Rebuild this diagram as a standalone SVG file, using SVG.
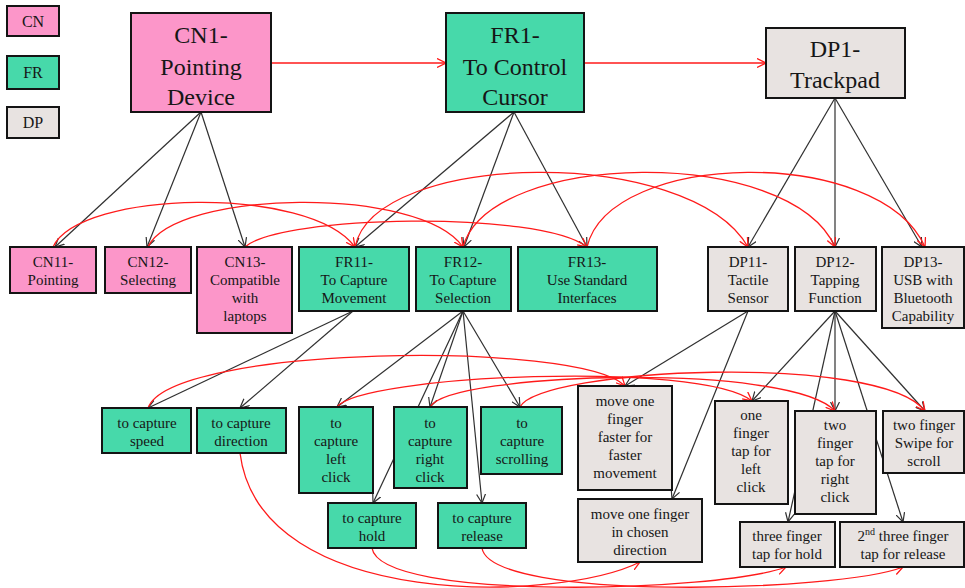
<svg xmlns="http://www.w3.org/2000/svg" width="965" height="588" viewBox="0 0 965 588" font-family="'Liberation Serif', 'Times New Roman', serif">
  <style>
    .cn { fill: #fc96c9; stroke: #141414; stroke-width: 2; }
    .fr { fill: #47d9aa; stroke: #141414; stroke-width: 2; }
    .dp { fill: #e8e3e1; stroke: #141414; stroke-width: 2; }
    text { font-family: "Liberation Serif", "Times New Roman", serif; fill: #161616; text-anchor: middle; }
    .big { font-size: 24px; }
    .sm { font-size: 15px; }
    .lg { font-size: 16px; }
    .tree { stroke: #303030; stroke-width: 1.2; fill: none; marker-end: url(#blackHead); }
    .link { stroke: #ff1a1a; stroke-width: 1.3; fill: none; marker-end: url(#redHead); }
  </style>
  <defs>
    <marker id="blackHead" viewBox="0 0 10 10" refX="9" refY="5" markerWidth="10" markerHeight="10" markerUnits="userSpaceOnUse" orient="auto">
      <path d="M0,0.5 L9,5 L0,9.5" fill="none" stroke="#303030" stroke-width="1.2"/>
    </marker>
    <marker id="redHead" viewBox="0 0 10 10" refX="9" refY="5" markerWidth="10" markerHeight="10" markerUnits="userSpaceOnUse" orient="auto">
      <path d="M0,0.5 L9,5 L0,9.5" fill="none" stroke="#ff1a1a" stroke-width="1.3"/>
    </marker>
  </defs>

  <!-- connectors: black = decomposition, red = mapping between domains -->
  <g id="connectors">
    <!-- top level mapping -->
    <path class="link" d="M271,63 H446"/>
    <path class="link" d="M584,63 H766"/>

    <!-- decomposition: CN1 -->
    <path class="tree" d="M201,112 L55,247"/>
    <path class="tree" d="M201,112 L147,247"/>
    <path class="tree" d="M201,112 L245,247"/>
    <!-- decomposition: FR1 -->
    <path class="tree" d="M514,112 L355,247"/>
    <path class="tree" d="M514,112 L464,247"/>
    <path class="tree" d="M514,112 L587,247"/>
    <!-- decomposition: DP1 -->
    <path class="tree" d="M835,98 L748,247"/>
    <path class="tree" d="M835,98 L835,247"/>
    <path class="tree" d="M835,98 L922,247"/>
    <!-- decomposition: FR11 -->
    <path class="tree" d="M353,311 L148,408"/>
    <path class="tree" d="M353,311 L240,408"/>
    <!-- decomposition: FR12 -->
    <path class="tree" d="M463,311 L337,407"/>
    <path class="tree" d="M463,311 L430,407"/>
    <path class="tree" d="M463,311 L373,503"/>
    <path class="tree" d="M463,311 L482,503"/>
    <path class="tree" d="M463,311 L520,407"/>
    <!-- decomposition: DP11 -->
    <path class="tree" d="M748,311 L625,386"/>
    <path class="tree" d="M748,311 L672,499"/>
    <!-- decomposition: DP12 -->
    <path class="tree" d="M835,311 L752,401"/>
    <path class="tree" d="M835,311 L835,411"/>
    <path class="tree" d="M835,311 L925,411"/>
    <path class="tree" d="M835,311 L788,522"/>
    <path class="tree" d="M835,311 L903,522"/>

    <!-- second level mapping -->
    <path class="link" d="M53,247 C80,190 310,185 355,247"/>
    <path class="link" d="M148,247 C175,190 420,185 463,247"/>
    <path class="link" d="M245,247 C280,215 540,210 587,247"/>
    <path class="link" d="M355,247 C375,150 690,145 748,247"/>
    <path class="link" d="M463,247 C490,150 790,145 835,247"/>
    <path class="link" d="M587,247 C610,150 880,145 925,247"/>

    <!-- third level mapping -->
    <path class="link" d="M148,408 C170,345 580,340 625,386"/>
    <path class="link" d="M337,407 C360,375 700,360 752,401"/>
    <path class="link" d="M430,407 C450,372 790,362 835,411"/>
    <path class="link" d="M520,407 C540,368 880,352 925,411"/>
    <path class="link" d="M240,453 C260,612 560,602 640,562"/>
    <path class="link" d="M372,548 C380,602 720,592 786,567"/>
    <path class="link" d="M482,548 C490,602 840,592 903,567"/>
  </g>

  <!-- legend -->
  <g id="legend-cn"><rect class="cn" x="7" y="6" width="52" height="30"/><text class="lg" x="33" y="27">CN</text></g>
  <g id="legend-fr"><rect class="fr" x="7" y="56" width="52" height="33"/><text class="lg" x="33" y="78">FR</text></g>
  <g id="legend-dp"><rect class="dp" x="7" y="107" width="52" height="31"/><text class="lg" x="33" y="128">DP</text></g>

  <!-- top level -->
  <g id="CN1"><rect class="cn" x="131" y="13" width="140" height="99"/>
    <text class="big" x="201" y="43">CN1-</text><text class="big" x="201" y="75">Pointing</text><text class="big" x="201" y="105">Device</text></g>
  <g id="FR1"><rect class="fr" x="446" y="13" width="138" height="99"/>
    <text class="big" x="515" y="43">FR1-</text><text class="big" x="515" y="75">To Control</text><text class="big" x="515" y="105">Cursor</text></g>
  <g id="DP1"><rect class="dp" x="766" y="28" width="139" height="70"/>
    <text class="big" x="835" y="57">DP1-</text><text class="big" x="835" y="88">Trackpad</text></g>

  <!-- second level -->
  <g id="CN11"><rect class="cn" x="10" y="247" width="86" height="46"/>
    <text class="sm" x="53" y="267">CN11-</text><text class="sm" x="53" y="285">Pointing</text></g>
  <g id="CN12"><rect class="cn" x="105" y="247" width="86" height="46"/>
    <text class="sm" x="148" y="267">CN12-</text><text class="sm" x="148" y="285">Selecting</text></g>
  <g id="CN13"><rect class="cn" x="197" y="247" width="95" height="86"/>
    <text class="sm" x="245" y="267">CN13-</text><text class="sm" x="245" y="285">Compatible</text><text class="sm" x="245" y="303">with</text><text class="sm" x="245" y="321">laptops</text></g>
  <g id="FR11"><rect class="fr" x="299" y="247" width="110" height="64"/>
    <text class="sm" x="354" y="267">FR11-</text><text class="sm" x="354" y="285">To Capture</text><text class="sm" x="354" y="303">Movement</text></g>
  <g id="FR12"><rect class="fr" x="416" y="247" width="95" height="64"/>
    <text class="sm" x="463" y="267">FR12-</text><text class="sm" x="463" y="285">To Capture</text><text class="sm" x="463" y="303">Selection</text></g>
  <g id="FR13"><rect class="fr" x="518" y="247" width="139" height="64"/>
    <text class="sm" x="587" y="267">FR13-</text><text class="sm" x="587" y="285">Use Standard</text><text class="sm" x="587" y="303">Interfaces</text></g>
  <g id="DP11"><rect class="dp" x="708" y="247" width="80" height="64"/>
    <text class="sm" x="748" y="267">DP11-</text><text class="sm" x="748" y="285">Tactile</text><text class="sm" x="748" y="303">Sensor</text></g>
  <g id="DP12"><rect class="dp" x="795" y="247" width="81" height="64"/>
    <text class="sm" x="835" y="267">DP12-</text><text class="sm" x="835" y="285">Tapping</text><text class="sm" x="835" y="303">Function</text></g>
  <g id="DP13"><rect class="dp" x="882" y="247" width="82" height="81"/>
    <text class="sm" x="923" y="267">DP13-</text><text class="sm" x="923" y="285">USB with</text><text class="sm" x="923" y="303">Bluetooth</text><text class="sm" x="923" y="321">Capability</text></g>

  <!-- third level: functional requirements -->
  <g id="speed"><rect class="fr" x="102" y="408" width="89" height="45"/>
    <text class="sm" x="147" y="428">to capture</text><text class="sm" x="147" y="446">speed</text></g>
  <g id="direction"><rect class="fr" x="197" y="408" width="89" height="45"/>
    <text class="sm" x="241" y="428">to capture</text><text class="sm" x="241" y="446">direction</text></g>
  <g id="left-click"><rect class="fr" x="299" y="407" width="74" height="86"/>
    <text class="sm" x="336" y="428">to</text><text class="sm" x="336" y="446">capture</text><text class="sm" x="336" y="464">left</text><text class="sm" x="336" y="482">click</text></g>
  <g id="right-click"><rect class="fr" x="394" y="407" width="73" height="81"/>
    <text class="sm" x="430" y="428">to</text><text class="sm" x="430" y="446">capture</text><text class="sm" x="430" y="464">right</text><text class="sm" x="430" y="482">click</text></g>
  <g id="scrolling"><rect class="fr" x="481" y="407" width="81" height="67"/>
    <text class="sm" x="522" y="428">to</text><text class="sm" x="522" y="446">capture</text><text class="sm" x="522" y="464">scrolling</text></g>
  <g id="hold"><rect class="fr" x="328" y="503" width="88" height="45"/>
    <text class="sm" x="372" y="523">to capture</text><text class="sm" x="372" y="541">hold</text></g>
  <g id="release"><rect class="fr" x="438" y="503" width="88" height="45"/>
    <text class="sm" x="482" y="523">to capture</text><text class="sm" x="482" y="541">release</text></g>

  <!-- third level: design parameters -->
  <g id="move-faster"><rect class="dp" x="578" y="386" width="94" height="104"/>
    <text class="sm" x="625" y="406">move one</text><text class="sm" x="625" y="424">finger</text><text class="sm" x="625" y="442">faster for</text><text class="sm" x="625" y="460">faster</text><text class="sm" x="625" y="478">movement</text></g>
  <g id="move-direction"><rect class="dp" x="578" y="499" width="124" height="63"/>
    <text class="sm" x="640" y="519">move one finger</text><text class="sm" x="640" y="537">in chosen</text><text class="sm" x="640" y="555">direction</text></g>
  <g id="one-finger"><rect class="dp" x="715" y="401" width="73" height="103"/>
    <text class="sm" x="751" y="420">one</text><text class="sm" x="751" y="438">finger</text><text class="sm" x="751" y="456">tap for</text><text class="sm" x="751" y="474">left</text><text class="sm" x="751" y="492">click</text></g>
  <g id="two-finger"><rect class="dp" x="795" y="411" width="81" height="103"/>
    <text class="sm" x="835" y="430">two</text><text class="sm" x="835" y="448">finger</text><text class="sm" x="835" y="466">tap for</text><text class="sm" x="835" y="484">right</text><text class="sm" x="835" y="502">click</text></g>
  <g id="swipe"><rect class="dp" x="883" y="411" width="81" height="62"/>
    <text class="sm" x="924" y="430">two finger</text><text class="sm" x="924" y="448">Swipe for</text><text class="sm" x="924" y="466">scroll</text></g>
  <g id="three-hold"><rect class="dp" x="740" y="522" width="95" height="45"/>
    <text class="sm" x="787" y="541">three finger</text><text class="sm" x="787" y="559">tap for hold</text></g>
  <g id="three-release"><rect class="dp" x="840" y="522" width="124" height="45"/>
    <text class="sm" x="903" y="541">2<tspan font-size="10" dy="-6">nd</tspan><tspan dy="6"> three finger</tspan></text><text class="sm" x="903" y="559">tap for release</text></g>
</svg>
